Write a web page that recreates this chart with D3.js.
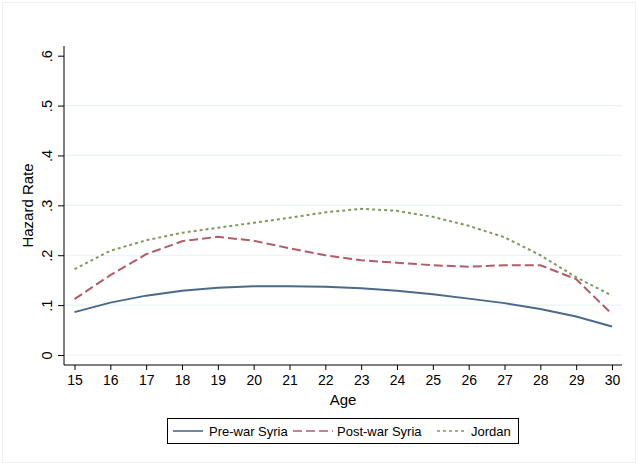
<!DOCTYPE html>
<html><head><meta charset="utf-8">
<script src="https://cdn.jsdelivr.net/npm/d3@7"></script>
<style>body{margin:0;background:#fff}svg{display:block;font-family:"Liberation Sans",Arial,sans-serif}</style>
</head><body>
<svg id="c" width="638" height="465"></svg>
<script>
const ages = [15,16,17,18,19,20,21,22,23,24,25,26,27,28,29,30];
const preWar = [0.086,0.105,0.119,0.129,0.135,0.138,0.138,0.137,0.134,0.129,0.122,0.113,0.104,0.092,0.077,0.057];
const postWar = [0.112,0.160,0.202,0.228,0.237,0.229,0.214,0.200,0.190,0.185,0.180,0.177,0.180,0.180,0.152,0.082];
const jordan = [0.172,0.209,0.230,0.245,0.255,0.265,0.275,0.286,0.293,0.289,0.277,0.259,0.236,0.200,0.156,0.119];
const yTicks = [0,0.1,0.2,0.3,0.4,0.5,0.6];
const yTickLabels = ["0",".1",".2",".3",".4",".5",".6"];
const gridTicks = [0,0.1,0.2,0.3,0.4,0.5];
const seriesNames = ["Pre-war Syria","Post-war Syria","Jordan"];

const svg = d3.select("#c");
svg.append("rect").attr("x",2.5).attr("y",2.5).attr("width",633).attr("height",460)
  .attr("fill","none").attr("stroke","#f0f0f0");

const x = d3.scaleLinear().domain([15,30]).range([74.5,612]);
const y = d3.scaleLinear().domain([0,0.6]).range([355,55.7]);
const plotL = 64, plotR = 622, plotB = 365, plotT = 46;

// grid
svg.append("g").selectAll("line").data(gridTicks).join("line")
  .attr("x1",plotL).attr("x2",plotR).attr("y1",d=>y(d)).attr("y2",d=>y(d))
  .attr("stroke","#eaf2f3").attr("stroke-width",1.2);

// y axis
const ya = svg.append("g").attr("transform",`translate(${plotL},0)`)
  .call(d3.axisLeft(y).tickValues(yTicks).tickSize(6).tickPadding(4).tickFormat((d,i)=>yTickLabels[i]));
ya.select(".domain").attr("d",`M0,${plotT}V${plotB}`).attr("stroke","#000");
ya.selectAll(".tick line").attr("stroke","#000");
ya.selectAll(".tick text").attr("font-size",14.5).attr("fill","#000")
  .attr("transform","rotate(-90)").attr("x",0).attr("y",-12).attr("dy","0")
  .attr("text-anchor","middle");

// x axis
const xa = svg.append("g").attr("transform",`translate(0,${plotB})`)
  .call(d3.axisBottom(x).tickValues(ages).tickSize(5).tickPadding(5).tickFormat(d3.format("d")));
xa.select(".domain").attr("d",`M${plotL},0H${plotR}`).attr("stroke","#000");
xa.selectAll(".tick line").attr("stroke","#000");
xa.selectAll(".tick text").attr("font-size",14).attr("fill","#000");

svg.append("text").attr("x",(plotL+plotR)/2).attr("y",405).attr("text-anchor","middle")
  .attr("font-size",15).text("Age");
svg.append("text").attr("transform",`translate(33,${(plotT+plotB)/2}) rotate(-90)`)
  .attr("text-anchor","middle").attr("font-size",15).text("Hazard Rate");

const styles = [
  {data:preWar,color:"#4a6a8c",dash:null},
  {data:postWar,color:"#b25c68",dash:"9,4"},
  {data:jordan,color:"#7d9b5c",dash:"3,3"}
];
const line = d3.line().x((d,i)=>x(ages[i])).y(d=>y(d));
styles.forEach(s=>{
  svg.append("path").attr("d",line(s.data)).attr("fill","none")
    .attr("stroke",s.color).attr("stroke-width",2)
    .attr("stroke-dasharray",s.dash);
});

// legend
const lg = svg.append("g");
lg.append("rect").attr("x",167.5).attr("y",418.5).attr("width",351).attr("height",25)
  .attr("fill","#fff").attr("stroke","#000");
const items = [
  {x1:173,x2:203,tx:209},
  {x1:293,x2:333,tx:337},
  {x1:437,x2:466,tx:471}
];
items.forEach((it,i)=>{
  lg.append("line").attr("x1",it.x1).attr("x2",it.x2).attr("y1",431).attr("y2",431)
    .attr("stroke",styles[i].color).attr("stroke-width",1.6).attr("stroke-dasharray",styles[i].dash);
  lg.append("text").attr("x",it.tx).attr("y",436).attr("font-size",13).text(seriesNames[i]);
});
</script>
</body></html>
